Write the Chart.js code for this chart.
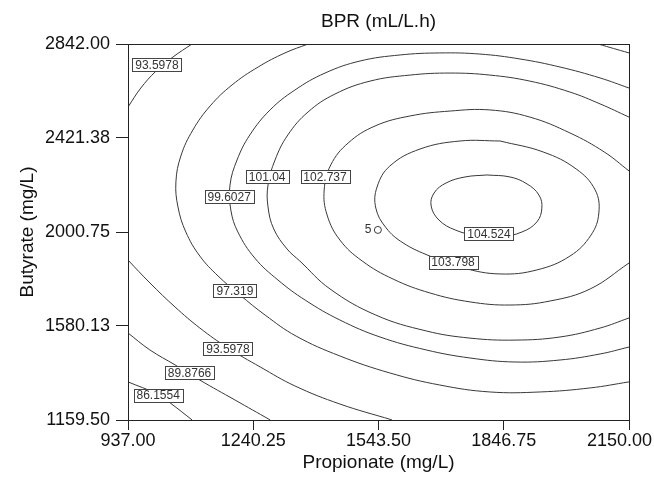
<!DOCTYPE html>
<html>
<head>
<meta charset="utf-8">
<script src="https://cdn.jsdelivr.net/npm/chart.js@4.4.1/dist/chart.umd.min.js"></script>
<style>
  html, body { margin: 0; padding: 0; background: #fff; }
</style>
</head>
<body>
<canvas id="myChart" width="654" height="478"></canvas>
<script>
// axis ticks
const xTicks = [937.00, 1240.25, 1543.50, 1846.75, 2150.00];
const yTicks = [1159.50, 1580.13, 2000.75, 2421.38, 2842.00];

// contour lines, [propionate, butyrate]
const c86 = [[937, 1330], [1007, 1276], [1039, 1236], [1092, 1160]];
const c90 = [[937, 1549], [990, 1473], [1051, 1406], [1111, 1338], [1196, 1249], [1281, 1160]];
const c94low = [[937, 1875], [990, 1773], [1051, 1665], [1111, 1571], [1179, 1482],
  [1257, 1397], [1341, 1312], [1450, 1231], [1576, 1160]];
const c94top = [[1092, 2842], [1046, 2784], [1005, 2721], [968, 2645], [937, 2560]];
const c97 = [[1373, 2842], [1317, 2802], [1252, 2739], [1189, 2659], [1136, 2565],
  [1094, 2457], [1065, 2341], [1053, 2225], [1058, 2113], [1077, 2001], [1111, 1893],
  [1155, 1804], [1208, 1719], [1269, 1629], [1344, 1535], [1450, 1446], [1571, 1370],
  [1692, 1316], [1813, 1285], [1935, 1285], [2056, 1303], [2150, 1330]];
const c97corner = [[2075, 2842], [2150, 2802]];
const c99 = [[2150, 2645], [2080, 2690], [1983, 2739], [1886, 2775], [1789, 2797],
  [1692, 2802], [1596, 2793], [1499, 2766], [1414, 2712], [1341, 2636], [1281, 2547],
  [1232, 2435], [1201, 2323], [1184, 2211], [1186, 2099], [1203, 2001], [1244, 1884],
  [1300, 1786], [1366, 1696], [1450, 1607], [1547, 1531], [1659, 1473], [1765, 1437],
  [1874, 1419], [1983, 1428], [2080, 1455], [2150, 1486]];
const c101 = [[2150, 2515], [2080, 2574], [2007, 2627], [1910, 2676], [1813, 2703],
  [1717, 2712], [1620, 2703], [1523, 2676], [1438, 2618], [1373, 2538], [1324, 2435],
  [1293, 2323], [1276, 2211], [1276, 2113], [1290, 2014], [1322, 1925], [1353, 1871],
  [1426, 1746], [1537, 1629], [1659, 1558], [1765, 1526], [1874, 1517], [1983, 1531],
  [2080, 1571], [2150, 1616]];
const c102 = [[2150, 2274], [2090, 2359], [2007, 2444], [1910, 2515], [1813, 2547],
  [1717, 2542], [1620, 2520], [1535, 2475], [1470, 2399], [1428, 2301], [1412, 2189],
  [1419, 2077], [1450, 1965], [1504, 1871], [1579, 1790], [1668, 1728], [1765, 1688],
  [1862, 1674], [1959, 1692], [2056, 1746], [2150, 1862]];
const c103 = [[1838, 2408], [1942, 2359], [2022, 2283], [2068, 2189], [2077, 2086],
  [2058, 1987], [2007, 1893], [1927, 1831], [1838, 1813], [1748, 1840], [1668, 1893],
  [1603, 1952], [1562, 2019], [1537, 2108], [1540, 2202], [1571, 2296], [1644, 2372],
  [1741, 2408], [1838, 2408]];
const c104 = [[1806, 2256], [1862, 2247], [1903, 2216], [1932, 2166], [1939, 2108],
  [1927, 2046], [1891, 2001], [1838, 1978], [1784, 1983], [1729, 2010], [1690, 2054],
  [1671, 2117], [1678, 2175], [1707, 2220], [1753, 2247], [1806, 2256]];
const c105 = [[1542, 2010]];

// contour labels: text, x, y
const contourLabels = [
  ['93.5978', 1007, 2750], ['99.6027', 1182, 2160], ['101.04', 1274, 2249],
  ['102.737', 1414, 2247], ['104.524', 1811, 1992], ['103.798', 1724, 1866],
  ['97.319', 1196, 1737], ['93.5978', 1179, 1479], ['89.8766', 1086, 1370],
  ['86.1554', 1010, 1271]
];
const plainLabels = [['5', 1518, 2010]];

const lineColor = '#383838';
const fontFamily = '"Liberation Sans", Arial, sans-serif';

const contours = [c86, c90, c94low, c94top, c97, c97corner, c99, c101, c102, c103, c104];
const datasets = contours.map(pts => ({
  data: pts,
  showLine: true,
  borderColor: lineColor,
  borderWidth: 1,
  pointRadius: 0,
  tension: 0.4,
  fill: false
}));
datasets.push({
  data: c105,
  showLine: false,
  pointRadius: 3.5,
  pointBorderWidth: 1,
  pointBorderColor: lineColor,
  pointBackgroundColor: '#fff'
});

const decorations = {
  id: 'decorations',
  afterDatasetsDraw(chart) {
    const {ctx, chartArea: a, scales: {x, y}} = chart;
    ctx.save();
    ctx.strokeStyle = '#222';
    ctx.lineWidth = 1;
    ctx.strokeRect(Math.round(a.left) + 0.5, Math.round(a.top) + 0.5,
      Math.round(a.right - a.left), Math.round(a.bottom - a.top));

    ctx.font = '12px ' + fontFamily;
    ctx.textAlign = 'center';
    ctx.textBaseline = 'middle';
    for (let lab of contourLabels) {
      const px = x.getPixelForValue(lab[1]);
      const py = y.getPixelForValue(lab[2]);
      const w = Math.round(ctx.measureText(lab[0]).width + 6);
      const h = 13;
      const bx = Math.round(px - w / 2) + 0.5;
      const by = Math.round(py - h / 2) + 0.5;
      ctx.fillStyle = '#fff';
      ctx.fillRect(bx, by, w, h);
      ctx.strokeStyle = '#444';
      ctx.strokeRect(bx, by, w, h);
      ctx.fillStyle = '#333';
      ctx.fillText(lab[0], px, py + 1);
    }
    for (let lab of plainLabels) {
      ctx.fillStyle = '#333';
      ctx.fillText(lab[0], x.getPixelForValue(lab[1]), y.getPixelForValue(lab[2]));
    }

    // x tick labels, last one kept inside the canvas
    ctx.font = '18px ' + fontFamily;
    ctx.fillStyle = '#111';
    for (let v of xTicks) {
      const txt = v.toFixed(2);
      const w = ctx.measureText(txt).width;
      const cx = Math.min(x.getPixelForValue(v), chart.width - 2 - w / 2);
      ctx.fillText(txt, cx, a.bottom + 21);
    }

    ctx.font = '19px ' + fontFamily;
    ctx.fillText('BPR (mL/L.h)', (a.left + a.right) / 2, 22);
    ctx.restore();
  }
};

const tickFont = {family: fontFamily, size: 18};
const titleFont = {family: fontFamily, size: 19};

new Chart(document.getElementById('myChart'), {
  type: 'scatter',
  data: {datasets: datasets},
  options: {
    responsive: false,
    animation: false,
    layout: {padding: {left: 0, right: 25, top: 44, bottom: 0}},
    plugins: {legend: {display: false}, tooltip: {enabled: false}},
    scales: {
      x: {
        type: 'linear',
        min: 937, max: 2150,
        afterBuildTicks: axis => { axis.ticks = xTicks.map(v => ({value: v})); },
        afterFit: axis => {
          axis.height = 58;
          axis.paddingLeft = 0; axis.paddingRight = 0;
        },
        ticks: {display: false},
        grid: {drawOnChartArea: false, drawTicks: true, tickLength: 10, color: '#222'},
        border: {display: false},
        title: {display: true, text: 'Propionate (mg/L)', font: titleFont, color: '#111',
          padding: {top: 0, bottom: 4}}
      },
      y: {
        type: 'linear',
        min: 1159.5, max: 2842,
        afterBuildTicks: axis => { axis.ticks = yTicks.map(v => ({value: v})); },
        afterFit: axis => {
          axis.width = 128;
          axis.paddingTop = 0; axis.paddingBottom = 0;
        },
        ticks: {
          font: tickFont, color: '#111', padding: 6,
          callback: v => Number(v).toFixed(2)
        },
        grid: {drawOnChartArea: false, drawTicks: true, tickLength: 12, color: '#222'},
        border: {display: false},
        title: {display: true, text: 'Butyrate (mg/L)', font: titleFont, color: '#111',
          padding: {top: 16, bottom: 0}}
      }
    }
  },
  plugins: [decorations]
});
</script>
</body>
</html>
